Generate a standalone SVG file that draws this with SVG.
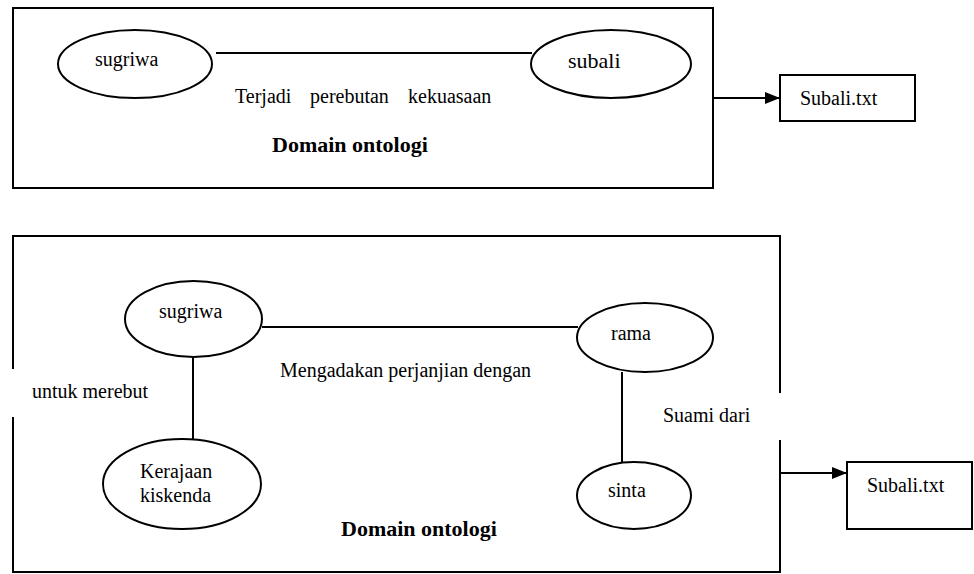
<svg xmlns="http://www.w3.org/2000/svg" width="974" height="574" viewBox="0 0 974 574">
<style>
  .frame { fill: none; stroke: #000; stroke-width: 2; }
  .node { fill: #fff; stroke: #000; stroke-width: 2; }
  .edge { fill: none; stroke: #000; stroke-width: 2; }
  .t { font-family: "Liberation Serif", "Times New Roman", serif; font-size: 20px; fill: #000; }
  .b { font-family: "Liberation Serif", "Times New Roman", serif; font-size: 22px; font-weight: bold; fill: #000; }
  .mask { fill: #fff; stroke: none; }
</style>
<defs>
  <marker id="arrow" viewBox="0 0 15 12" refX="15" refY="6" markerWidth="15" markerHeight="12" markerUnits="userSpaceOnUse" orient="auto">
    <path d="M0,0 L15,6 L0,12 Z" fill="#000"/>
  </marker>
</defs>
<rect width="974" height="574" fill="#fff"/>

<!-- Top domain -->
<g id="domain-top">
  <rect class="frame" x="13" y="8" width="700" height="180"/>
  <text class="b" x="272" y="152">Domain ontologi</text>
</g>
<!-- Bottom domain -->
<g id="domain-bottom">
  <rect class="frame" x="13" y="236" width="767" height="336"/>
  <text class="b" x="341" y="536">Domain ontologi</text>
</g>

<g id="connectors">
  <line class="edge" x1="216" y1="53" x2="532" y2="53"/>
  <line class="edge" x1="713" y1="98" x2="780" y2="98" marker-end="url(#arrow)"/>
  <line class="edge" x1="262" y1="327" x2="578" y2="327"/>
  <line class="edge" x1="193" y1="348" x2="193" y2="439"/>
  <line class="edge" x1="622" y1="372" x2="622" y2="462"/>
  <line class="edge" x1="780" y1="473" x2="847" y2="473" marker-end="url(#arrow)"/>
</g>

<g id="edge-labels">
  <text class="t" x="235" y="103">Terjadi</text>
  <text class="t" x="310" y="103">perebutan</text>
  <text class="t" x="408" y="103">kekuasaan</text>
  <text class="t" x="280" y="377">Mengadakan perjanjian dengan</text>
  <rect class="mask" x="11" y="369" width="150" height="48"/>
  <text class="t" x="32" y="398">untuk merebut</text>
  <rect class="mask" x="655" y="393" width="128" height="47"/>
  <text class="t" x="663" y="422">Suami dari</text>
</g>

<g id="sugriwa-top">
  <ellipse class="node" cx="135" cy="64" rx="77" ry="34"/>
  <text class="t" x="95" y="66">sugriwa</text>
</g>
<g id="subali">
  <ellipse class="node" cx="611" cy="64" rx="80" ry="34"/>
  <text class="t" x="568" y="68" style="font-size:22px">subali</text>
</g>
<g id="file-top">
  <rect class="node" x="780" y="75" width="135" height="46"/>
  <text class="t" x="800" y="105">Subali.txt</text>
</g>

<g id="sugriwa-bottom">
  <ellipse class="node" cx="193.5" cy="319" rx="68.5" ry="38"/>
  <text class="t" x="159" y="318">sugriwa</text>
</g>
<g id="kerajaan">
  <ellipse class="node" cx="182" cy="484" rx="79" ry="45"/>
  <text class="t" x="140" y="478">Kerajaan</text>
  <text class="t" x="140" y="502">kiskenda</text>
</g>
<g id="rama">
  <ellipse class="node" cx="645" cy="337.5" rx="68" ry="34.5"/>
  <text class="t" x="611" y="340">rama</text>
</g>
<g id="sinta">
  <ellipse class="node" cx="634" cy="495.5" rx="57" ry="33.5"/>
  <text class="t" x="608" y="497">sinta</text>
</g>
<g id="file-bottom">
  <rect class="node" x="847" y="462" width="125" height="67"/>
  <text class="t" x="867" y="492">Subali.txt</text>
</g>
</svg>
